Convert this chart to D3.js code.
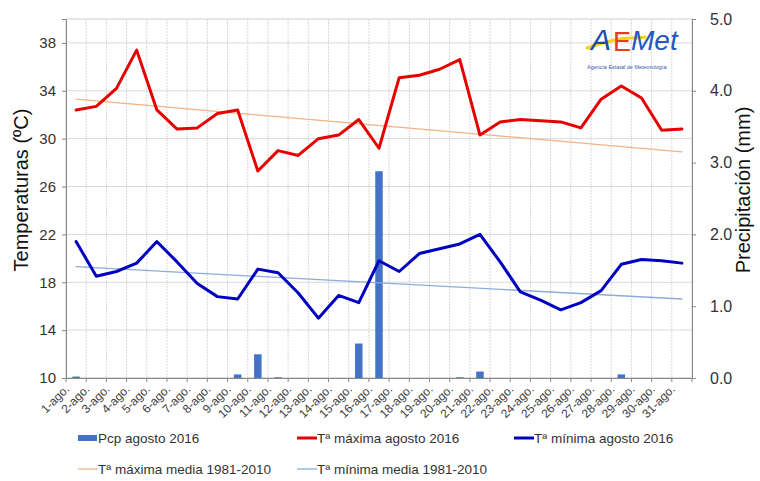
<!DOCTYPE html>
<html>

<head>
  <title>Temperaturas y precipitación agosto 2016</title>
  <script src="https://d3js.org/d3.v7.min.js"></script>
  <style>
    body {
      margin: 0;
      background-color: white;
    }

    svg text {
      font-family: "Liberation Sans", Arial, sans-serif;
    }
  </style>
</head>

<body>
  <svg id="myCanvas" width="760" height="481"></svg>
</body>

<script>
  // data
  var dias = ["1-ago.", "2-ago.", "3-ago.", "4-ago.", "5-ago.", "6-ago.", "7-ago.", "8-ago.",
    "9-ago.", "10-ago.", "11-ago.", "12-ago.", "13-ago.", "14-ago.", "15-ago.", "16-ago.",
    "17-ago.", "18-ago.", "19-ago.", "20-ago.", "21-ago.", "22-ago.", "23-ago.", "24-ago.",
    "25-ago.", "26-ago.", "27-ago.", "28-ago.", "29-ago.", "30-ago.", "31-ago."];
  var tMax = [32.4, 32.7, 34.2, 37.4, 32.4, 30.8, 30.9, 32.1, 32.4, 27.3, 29.0, 28.6, 30.0, 30.3, 31.6, 29.2,
    35.1, 35.3, 35.8, 36.6, 30.3, 31.4, 31.6, 31.5, 31.4, 30.9, 33.3, 34.4, 33.4, 30.7, 30.8];
  var tMin = [21.4, 18.5, 18.9, 19.6, 21.4, 19.7, 17.9, 16.8, 16.6, 19.1, 18.8, 17.1, 15.0, 16.9, 16.3, 19.8,
    18.9, 20.4, 20.8, 21.2, 22.0, 19.7, 17.2, 16.5, 15.7, 16.3, 17.3, 19.5, 19.9, 19.8, 19.6];
  var pcp = [0.02, 0, 0, 0, 0, 0, 0, 0, 0.05, 0.33, 0.01, 0, 0, 0, 0.48, 2.88,
    0, 0, 0, 0.01, 0.09, 0, 0, 0, 0, 0, 0, 0.05, 0, 0, 0];
  // climatology 1981-2010, first and last day
  var mediaDias = ["1-ago.", "31-ago."];
  var mediaMax = [33.3, 28.9];
  var mediaMin = [19.3, 16.6];
  var ticksT = [10, 14, 18, 22, 26, 30, 34, 38];
  var ticksP = [0, 1, 2, 3, 4, 5];

  var mLeft = 66, mRight = 692, mTop = 19, mBottom = 378;
  var svg = d3.select("#myCanvas");

  var x = d3.scaleBand(dias, [mLeft, mRight]);
  var yT = d3.scaleLinear([10, 40], [mBottom, mTop]);
  var yP = d3.scaleLinear([0, 5], [mBottom, mTop]);
  var cx = d => x(d) + x.bandwidth() / 2;

  // grid
  svg.append("g")
    .selectAll("line")
    .data(ticksT)
    .join("line")
    .attr("x1", mLeft).attr("x2", mRight)
    .attr("y1", d => yT(d)).attr("y2", d => yT(d))
    .attr("stroke", "#d9d9d9");

  svg.append("g")
    .selectAll("line")
    .data(dias.slice(1))
    .join("line")
    .attr("x1", d => x(d)).attr("x2", d => x(d))
    .attr("y1", mTop).attr("y2", mBottom)
    .attr("stroke", "#d9d9d9")
    .attr("stroke-dasharray", "2,1");

  svg.append("rect")
    .attr("x", mLeft).attr("y", mTop)
    .attr("width", mRight - mLeft).attr("height", mBottom - mTop)
    .attr("fill", "none")
    .attr("stroke", "#d0d0d0");

  // precipitation bars
  var bw = x.bandwidth() * 0.37;
  svg.append("g")
    .selectAll("rect")
    .data(pcp)
    .join("rect")
    .attr("x", (d, i) => cx(dias[i]) - bw / 2)
    .attr("y", d => yP(d))
    .attr("width", bw)
    .attr("height", d => mBottom - yP(d))
    .attr("fill", "#4472c4");

  // lines
  var line = (yScale) => d3.line()
    .x(d => cx(d[0]))
    .y(d => yScale(d[1]));

  function drawLine(days, vals, color, width) {
    svg.append("path")
      .datum(d3.zip(days, vals))
      .attr("d", line(yT))
      .attr("fill", "none")
      .attr("stroke", color)
      .attr("stroke-width", width)
      .attr("stroke-linejoin", "round")
      .attr("stroke-linecap", "round");
  }

  drawLine(mediaDias, mediaMax, "#f4b183", 1.3);
  drawLine(mediaDias, mediaMin, "#8eaadb", 1.3);
  drawLine(dias, tMax, "#e60000", 3);
  drawLine(dias, tMin, "#0000c0", 3);

  // axes
  var axisColor = "#888";
  var xAxis = svg.append("g")
    .attr("transform", `translate(0,${mBottom})`)
    .call(d3.axisBottom(x).tickSize(0).tickFormat(""));
  xAxis.select(".domain").attr("stroke", axisColor);
  svg.append("g")
    .selectAll("line")
    .data(dias.concat(["fin"]))
    .join("line")
    .attr("x1", (d, i) => i < dias.length ? x(d) : mRight)
    .attr("x2", (d, i) => i < dias.length ? x(d) : mRight)
    .attr("y1", mBottom).attr("y2", mBottom + 4)
    .attr("stroke", axisColor);

  svg.append("g")
    .selectAll("text")
    .data(dias)
    .join("text")
    .attr("transform", d => `translate(${cx(d) - 6},${mBottom + 12}) rotate(-45)`)
    .attr("text-anchor", "end")
    .attr("font-size", 12)
    .attr("fill", "#404040")
    .text(d => d);

  var yAxisL = svg.append("g")
    .attr("transform", `translate(${mLeft},0)`)
    .call(d3.axisLeft(yT).tickValues(ticksT).tickSize(4).tickPadding(6));
  yAxisL.select(".domain").attr("stroke", axisColor);
  yAxisL.selectAll(".tick line").attr("stroke", axisColor);
  yAxisL.selectAll(".tick text")
    .attr("font-size", 15)
    .attr("font-family", "Liberation Sans, Arial, sans-serif")
    .attr("fill", "#333");

  var yAxisR = svg.append("g")
    .attr("transform", `translate(${mRight},0)`)
    .call(d3.axisRight(yP).tickValues(ticksP).tickSize(4).tickPadding(14).tickFormat(d3.format(".1f")));
  yAxisR.select(".domain").attr("stroke", axisColor);
  yAxisR.selectAll(".tick line").attr("stroke", axisColor);
  yAxisR.selectAll(".tick text")
    .attr("font-size", 16)
    .attr("font-family", "Liberation Sans, Arial, sans-serif")
    .attr("fill", "#333");

  // axis titles
  svg.append("text")
    .attr("transform", "translate(28,190) rotate(-90)")
    .attr("text-anchor", "middle")
    .attr("font-size", 20)
    .attr("fill", "#111")
    .text("Temperaturas (ºC)");

  svg.append("text")
    .attr("transform", "translate(750,190) rotate(-90)")
    .attr("text-anchor", "middle")
    .attr("font-size", 20)
    .attr("fill", "#111")
    .text("Precipitación (mm)");

  // legend
  var legend = [
    { name: "Pcp agosto 2016", color: "#4472c4", type: "bar", x: 78, y: 438 },
    { name: "Tª máxima agosto 2016", color: "#e60000", type: "line", w: 3, x: 297, y: 438 },
    { name: "Tª mínima agosto 2016", color: "#0000c0", type: "line", w: 3, x: 514, y: 438 },
    { name: "Tª máxima media 1981-2010", color: "#f4b183", type: "line", w: 1.3, x: 78, y: 469 },
    { name: "Tª mínima media 1981-2010", color: "#8eaadb", type: "line", w: 1.3, x: 297, y: 469 }
  ];
  var lg = svg.append("g")
    .selectAll("g")
    .data(legend)
    .join("g")
    .attr("transform", d => `translate(${d.x},${d.y})`);
  lg.filter(d => d.type == "bar")
    .append("rect")
    .attr("x", 0).attr("y", -3).attr("width", 19).attr("height", 6)
    .attr("fill", d => d.color);
  lg.filter(d => d.type == "line")
    .append("line")
    .attr("x1", 0).attr("x2", 20).attr("y1", 0).attr("y2", 0)
    .attr("stroke", d => d.color)
    .attr("stroke-width", d => d.w);
  lg.append("text")
    .attr("x", 20).attr("y", 5)
    .attr("font-size", 13.5)
    .attr("fill", "#333")
    .text(d => d.name);

  // AEMet logo
  var logo = svg.append("g").attr("transform", "translate(585,26)");
  logo.append("path")
    .attr("d", "M2,22 C14,18 30,12 46,12 C52,12 56,12 60,11")
    .attr("fill", "none")
    .attr("stroke", "#f2d21b")
    .attr("stroke-width", 3)
    .attr("stroke-linecap", "round");
  logo.append("text")
    .attr("x", 6).attr("y", 24)
    .attr("font-family", "DejaVu Serif, serif")
    .attr("font-style", "italic")
    .attr("font-size", 30)
    .attr("fill", "#1f4bb0")
    .text("A");
  logo.append("text")
    .attr("x", 28).attr("y", 25)
    .attr("font-family", "DejaVu Serif, serif")
    .attr("font-size", 27)
    .attr("fill", "#e2401c")
    .text("E");
  logo.append("text")
    .attr("x", 46).attr("y", 24)
    .attr("font-family", "DejaVu Serif, serif")
    .attr("font-style", "italic")
    .attr("font-size", 28)
    .attr("fill", "#2456c4")
    .text("Met");
  logo.append("text")
    .attr("x", 2).attr("y", 43)
    .attr("font-size", 5.5)
    .attr("fill", "#3a5ba8")
    .text("Agencia Estatal de Meteorología");
</script>

</html>
